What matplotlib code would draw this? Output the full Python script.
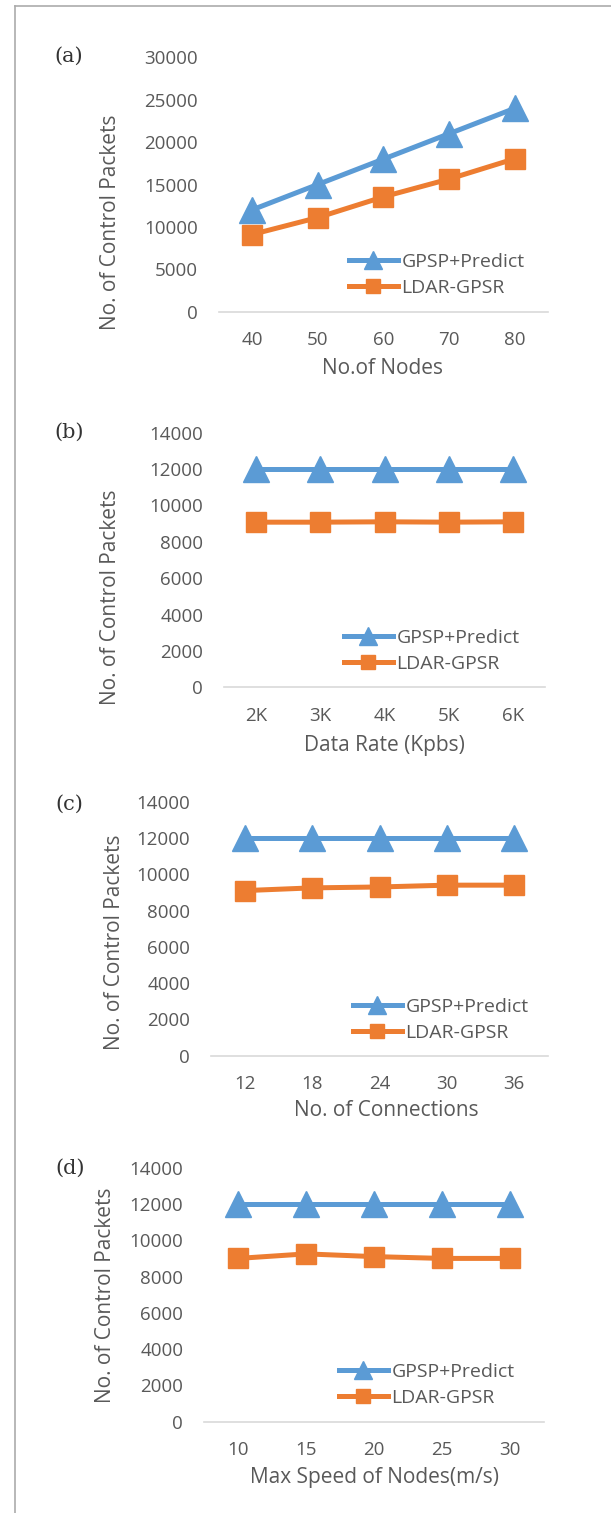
import matplotlib
matplotlib.use('Agg')
import matplotlib.pyplot as plt
from matplotlib.lines import Line2D

plt.rcParams['font.family'] = ['Open Sans', 'DejaVu Sans']

# --- data ---
nodes = ['40', '50', '60', '70', '80']
gpsp_nodes = [12000, 15000, 18000, 21000, 24000]
ldar_nodes = [9100, 11100, 13550, 15650, 18050]

rates = ['2K', '3K', '4K', '5K', '6K']
gpsp_rate = [12000, 12000, 12000, 12000, 12000]
ldar_rate = [9080, 9080, 9100, 9080, 9100]

conns = ['12', '18', '24', '30', '36']
gpsp_conn = [12000, 12000, 12000, 12000, 12000]
ldar_conn = [9100, 9250, 9300, 9400, 9400]

speeds = ['10', '15', '20', '25', '30']
gpsp_speed = [12000, 12000, 12000, 12000, 12000]
ldar_speed = [9000, 9250, 9100, 9000, 9000]

BLUE = '#5B9BD5'
ORANGE = '#ED7D31'
GREY = '#595959'

W, H = 611, 1513
fig = plt.figure(figsize=(W / 100, H / 100), dpi=100)


def fx(px):
    return px / W


def fy(py):
    return 1 - py / H


# page border (left and top)
fig.add_artist(Line2D([fx(15), fx(15)], [fy(6), 0], color='#ABABAB', lw=1.2))
fig.add_artist(Line2D([fx(15), 1], [fy(6), fy(6)], color='#ABABAB', lw=1.2))

# layout: tag, cats, series, xlabel, ymax, step, axis px (x0, x1, ybottom, ytop),
# tag pos, ylabel pos, xlabel pos, legend (left, first row)
panels = [
    ('(a)', nodes, gpsp_nodes, ldar_nodes, 'No.of Nodes', 30000, 5000,
     (219, 548, 311.7, 57.3), (69, 56), (110, 222), (383, 368), (349, 261.7)),
    ('(b)', rates, gpsp_rate, ldar_rate, 'Data Rate (Kpbs)', 14000, 2000,
     (224, 545, 687.3, 432.7), (69, 432), (110, 597), (384, 745), (344, 638)),
    ('(c)', conns, gpsp_conn, ldar_conn, 'No. of Connections', 14000, 2000,
     (211, 548, 1055.7, 801.7), (69, 804), (114, 942), (386, 1111), (353, 1006.7)),
    ('(d)', speeds, gpsp_speed, ldar_speed, 'Max Speed of Nodes(m/s)', 14000, 2000,
     (204, 544, 1421.7, 1167.7), (70, 1168), (106, 1295), (374, 1478), (339, 1372)),
]

for tag, cats, gpsp, ldar, xlab, ymax, step, box, tpos, ylpos, xlpos, lpos in panels:
    x0, x1, yb, yt = box
    ax = fig.add_axes([fx(x0), fy(yb), (x1 - x0) / W, (yb - yt) / H])
    xs = range(len(cats))
    ax.plot(xs, gpsp, color=BLUE, lw=3.6, marker='^', ms=19, clip_on=False,
            label='GPSP+Predict', zorder=3)
    ax.plot(xs, ldar, color=ORANGE, lw=3.6, marker='s', ms=15, clip_on=False,
            label='LDAR-GPSR', zorder=3)
    ax.set_xlim(-0.5, len(cats) - 0.5)
    ax.set_ylim(0, ymax)
    ax.set_xticks(list(xs))
    ax.set_xticklabels(cats)
    ax.set_yticks(range(0, ymax + 1, step))
    ax.tick_params(length=0, labelsize=13.5, colors=GREY)
    ax.tick_params(axis='y', pad=15)
    ax.tick_params(axis='x', pad=14)
    for s in ['left', 'right', 'top']:
        ax.spines[s].set_visible(False)
    ax.spines['bottom'].set_color('#D9D9D9')
    ax.spines['bottom'].set_linewidth(1.2)

    fig.text(fx(tpos[0]), fy(tpos[1]), tag, ha='center', va='center',
             family='DejaVu Serif', fontsize=15, color='#333333')
    fig.text(fx(ylpos[0]), fy(ylpos[1]), 'No. of Control Packets', rotation=90,
             ha='center', va='center', fontsize=15, color=GREY)
    fig.text(fx(xlpos[0]), fy(xlpos[1]), xlab, ha='center', va='center',
             fontsize=15, color=GREY)

    ax.legend(loc='upper left', bbox_to_anchor=(fx(lpos[0]), fy(lpos[1] - 9)),
              bbox_transform=fig.transFigure, frameon=False, borderpad=0,
              borderaxespad=0, handlelength=2.5, handletextpad=0.2,
              labelspacing=0.42, markerscale=0.65, fontsize=14, labelcolor=GREY)

fig.savefig('out.png', dpi=100)
